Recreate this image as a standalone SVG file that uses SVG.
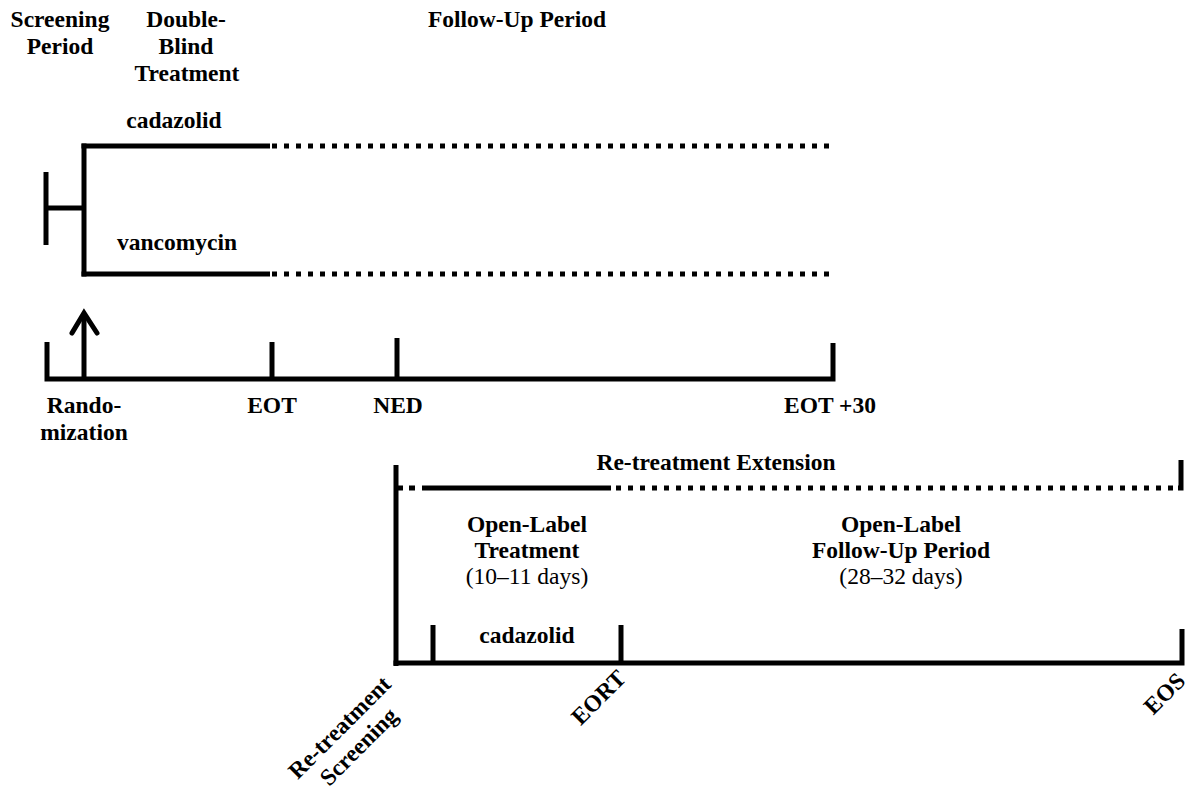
<svg xmlns="http://www.w3.org/2000/svg" width="1189" height="792" viewBox="0 0 1189 792">
<style>
text{font-family:"Liberation Serif","Times New Roman",serif;font-size:23.5px;fill:#000;text-anchor:middle}
.b{font-weight:bold}
.r{font-weight:normal}
.ln{stroke:#000;stroke-width:5;fill:none;stroke-linecap:butt}
.dot{stroke:#000;stroke-width:5;fill:none;stroke-dasharray:5 7}
.head{stroke:#000;stroke-width:5;fill:none;stroke-linecap:round;stroke-linejoin:miter}
</style>
<rect width="1189" height="792" fill="#fff"/>

<g id="headers">
<text class="b" x="60" y="27">Screening</text>
<text class="b" x="60" y="54">Period</text>
<text class="b" x="186" y="27">Double-</text>
<text class="b" x="186" y="54">Blind</text>
<text class="b" x="187" y="81">Treatment</text>
<text class="b" x="517" y="27">Follow-Up Period</text>
</g>

<g id="arms">
<text class="b" x="174" y="128">cadazolid</text>
<text class="b" x="177" y="250">vancomycin</text>
</g>

<g id="connectors">
<!-- randomization bracket -->
<path class="ln" d="M46,172 V245"/>
<path class="ln" d="M46,208 H84"/>
<path class="ln" d="M84,143.5 V276.5"/>
<path class="ln" d="M81.5,146 H270"/>
<path class="ln" d="M81.5,274 H270"/>
<path class="dot" d="M272,146 H831"/>
<path class="dot" d="M272,274 H831"/>
<!-- main timeline -->
<path class="ln" d="M47,342 V381.5 M44.5,379 H835.5 M833,343 V381.5"/>
<path class="ln" d="M272,342 V379"/>
<path class="ln" d="M397,338 V379"/>
<path class="ln" d="M84,379 V314"/>
<path class="head" d="M72,333 L84,313 L97,333"/>
<!-- re-treatment extension -->
<path class="ln" d="M396,465 V666"/>
<path class="ln" d="M396,488 H403 M409,488 H415 M422,488 H611"/>
<path class="dot" d="M616,488 H1178"/>
<path class="ln" d="M1181,460 V490.5 M1178,488 H1183"/>
<path class="ln" d="M393.5,663 H1184.5 M1182,629 V665.5"/>
<path class="ln" d="M433,625 V663"/>
<path class="ln" d="M621,625 V663"/>
</g>

<g id="timeline-labels">
<text class="b" x="84" y="413">Rando-</text>
<text class="b" x="84" y="440">mization</text>
<text class="b" x="272" y="413">EOT</text>
<text class="b" x="398" y="413">NED</text>
<text class="b" x="830" y="413">EOT +30</text>
</g>

<g id="retreatment">
<text class="b" x="716" y="470">Re-treatment Extension</text>
<text class="b" x="527" y="532">Open-Label</text>
<text class="b" x="527" y="558">Treatment</text>
<text class="r" x="527" y="584">(10–11 days)</text>
<text class="b" x="527" y="643">cadazolid</text>
<text class="b" x="901" y="532">Open-Label</text>
<text class="b" x="901" y="558">Follow-Up Period</text>
<text class="r" x="901" y="584">(28–32 days)</text>
</g>

<g id="rotated-labels">
<g transform="translate(345,733) rotate(-45)">
<text class="b" x="0" y="0">Re-treatment</text>
<text class="b" x="0" y="27">Screening</text>
</g>
<text class="b" transform="translate(604,703) rotate(-45)">EORT</text>
<text class="b" transform="translate(1170,699) rotate(-45)">EOS</text>
</g>
</svg>
